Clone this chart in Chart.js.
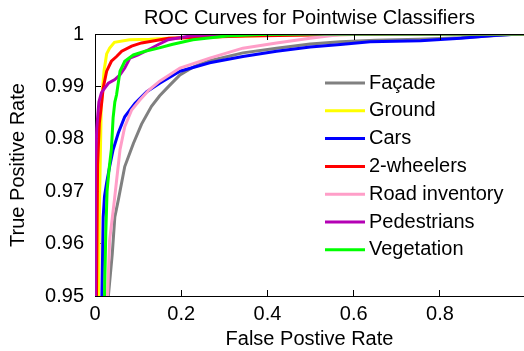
<!DOCTYPE html>
<html>
<head>
<meta charset="utf-8">
<script src="https://cdn.jsdelivr.net/npm/chart.js@4.4.0/dist/chart.umd.min.js"></script>
<style>
  html, body { margin: 0; padding: 0; background: #fff; }
  #wrap { width: 524px; height: 351px; position: relative; }
</style>
</head>
<body>
<div id="wrap"><canvas id="grafico"></canvas></div>
<script>
// Dados (FPR / TPR de cada classe)
const classes = ['Façade', 'Ground', 'Cars', '2-wheelers', 'Road inventory', 'Pedestrians', 'Vegetation'];
const cores = ['rgb(128,128,128)', 'rgb(255,255,0)', 'rgb(0,0,255)', 'rgb(255,0,0)', 'rgb(255,158,200)', 'rgb(180,0,180)', 'rgb(0,255,0)'];

const facadeFPR = [0.031, 0.040, 0.046, 0.054, 0.069, 0.089, 0.108, 0.131, 0.150, 0.173, 0.197, 0.230, 0.266, 0.343, 0.421, 0.499, 0.569, 0.650, 0.750, 0.850, 0.930, 0.980, 1.0];
const facadeTPR = [0.950, 0.958, 0.9651, 0.9683, 0.9747, 0.9791, 0.9828, 0.9862, 0.9882, 0.9902, 0.9922, 0.9938, 0.9949, 0.9964, 0.9973, 0.9981, 0.9985, 0.9988, 0.999, 0.9993, 0.9997, 1.0, 1.0];

const groundFPR = [0.008, 0.0105, 0.0144, 0.018, 0.021, 0.027, 0.034, 0.045, 0.080, 0.127, 0.173, 0.300, 0.450, 0.600, 1.0];
const groundTPR = [0.950, 0.968, 0.9859, 0.990, 0.993, 0.9962, 0.9973, 0.9984, 0.9989, 0.999, 0.9992, 0.9995, 0.9998, 1.0, 1.0];

const carsFPR = [0.016, 0.019, 0.022, 0.027, 0.034, 0.042, 0.054, 0.069, 0.093, 0.120, 0.150, 0.197, 0.266, 0.343, 0.421, 0.499, 0.569, 0.638, 0.755, 0.848, 0.925, 0.987, 1.0];
const carsTPR = [0.950, 0.965, 0.969, 0.9716, 0.9747, 0.9779, 0.9811, 0.9842, 0.9868, 0.989, 0.9906, 0.9929, 0.9945, 0.9957, 0.9967, 0.9975, 0.998, 0.9985, 0.9987, 0.9992, 0.9997, 1.0, 1.0];

const wheelersFPR = [0.0035, 0.006, 0.010, 0.015, 0.019, 0.027, 0.038, 0.050, 0.062, 0.085, 0.108, 0.138, 0.171, 0.250, 0.350, 0.500, 0.700, 1.0];
const wheelersTPR = [0.950, 0.975, 0.983, 0.9865, 0.9897, 0.9929, 0.9948, 0.9957, 0.9967, 0.9977, 0.9983, 0.9987, 0.9992, 0.9994, 0.9996, 0.9998, 1.0, 1.0];

const roadFPR = [0.029, 0.034, 0.045, 0.058, 0.069, 0.085, 0.104, 0.125, 0.150, 0.197, 0.266, 0.343, 0.421, 0.499, 0.569, 0.650, 1.0];
const roadTPR = [0.950, 0.9607, 0.9683, 0.9779, 0.9823, 0.9855, 0.9874, 0.9893, 0.991, 0.9935, 0.9954, 0.9973, 0.9983, 0.9992, 0.9999, 1.0, 1.0];

const pedestrFPR = [0.001, 0.001, 0.004, 0.009, 0.015, 0.023, 0.031, 0.046, 0.058, 0.069, 0.081, 0.100, 0.124, 0.147, 0.170, 0.220, 0.300, 1.0];
const pedestrTPR = [0.950, 0.975, 0.982, 0.987, 0.9888, 0.9897, 0.9906, 0.9913, 0.9922, 0.9935, 0.9954, 0.996, 0.997, 0.998, 0.9989, 0.9996, 1.0, 1.0];

const vegetFPR = [0.022, 0.025, 0.028, 0.033, 0.038, 0.042, 0.046, 0.050, 0.058, 0.069, 0.089, 0.116, 0.147, 0.178, 0.227, 0.305, 0.383, 0.500, 1.0];
const vegetTPR = [0.950, 0.962, 0.970, 0.9745, 0.978, 0.984, 0.987, 0.9884, 0.9929, 0.9948, 0.996, 0.9967, 0.9973, 0.998, 0.9989, 0.9996, 0.9999, 1.0, 1.0];

const seriesFPR = [facadeFPR, groundFPR, carsFPR, wheelersFPR, roadFPR, pedestrFPR, vegetFPR];
const seriesTPR = [facadeTPR, groundTPR, carsTPR, wheelersTPR, roadTPR, pedestrTPR, vegetTPR];

// Ticks dos eixos
const xTicks = [0, 0.2, 0.4, 0.6, 0.8];
const xTickLabels = ['0', '0.2', '0.4', '0.6', '0.8'];
const yTicks = [0.95, 0.96, 0.97, 0.98, 0.99, 1];
const yTickLabels = ['0.95', '0.96', '0.97', '0.98', '0.99', '1'];

const fonte = 'Liberation Sans, Arial, sans-serif';

const datasets = classes.map((nome, i) => ({
    label: nome,
    data: seriesFPR[i].map((x, k) => ({ x: x, y: seriesTPR[i][k] })),
    borderColor: cores[i],
    backgroundColor: cores[i],
    borderWidth: 3,
    pointRadius: 0,
    tension: 0,
    fill: false,
    order: classes.length - 1 - i // Vegetation por cima, como no MATLAB
}));

// Título, moldura superior com ticks internos e legenda dentro do gráfico
const extras = {
    id: 'extras',
    afterDraw(chart) {
        const { ctx, chartArea: a, scales } = chart;
        ctx.save();
        ctx.fillStyle = '#000';
        ctx.font = '20px ' + fonte;
        ctx.textAlign = 'center';
        ctx.textBaseline = 'middle';
        ctx.fillText('ROC Curves for Pointwise Classifiers', (a.left + a.right) / 2, 18);

        // linha de cima + ticks
        ctx.strokeStyle = '#000';
        ctx.lineWidth = 1;
        ctx.beginPath();
        ctx.moveTo(a.left, a.top + 0.5);
        ctx.lineTo(a.right, a.top + 0.5);
        xTicks.forEach(v => {
            const px = Math.round(scales.x.getPixelForValue(v)) + 0.5;
            ctx.moveTo(px, a.top);
            ctx.lineTo(px, a.top + 6);
        });
        ctx.stroke();

        // legenda
        ctx.textAlign = 'left';
        chart.data.datasets.forEach((ds, i) => {
            const y = a.top + 49 + i * 27.8;
            ctx.strokeStyle = ds.borderColor;
            ctx.lineWidth = 3;
            ctx.beginPath();
            ctx.moveTo(a.left + 230, y);
            ctx.lineTo(a.left + 270, y);
            ctx.stroke();
            ctx.fillStyle = '#000';
            ctx.fillText(ds.label, a.left + 274, y);
        });
        ctx.restore();
    }
};

new Chart(document.getElementById('grafico'), {
    type: 'line',
    data: { datasets: datasets },
    options: {
        responsive: true,
        maintainAspectRatio: false,
        animation: false,
        devicePixelRatio: 1,
        layout: { autoPadding: false, padding: { top: 34, left: 0, right: 0, bottom: 0 } },
        plugins: {
            legend: { display: false },
            tooltip: { enabled: false },
            title: { display: false }
        },
        scales: {
            x: {
                type: 'linear',
                min: 0,
                max: 0.995,
                afterBuildTicks: s => { s.ticks = xTicks.map(v => ({ value: v })); },
                afterFit: s => { s.height = 55; },
                ticks: {
                    color: '#000',
                    font: { family: fonte, size: 20 },
                    padding: 12,
                    maxRotation: 0,
                    callback: v => xTickLabels[xTicks.indexOf(v)]
                },
                grid: { drawOnChartArea: false, tickLength: -6, color: '#000' },
                border: { color: '#000', width: 1 },
                title: {
                    display: true,
                    text: 'False Postive Rate',
                    color: '#000',
                    font: { family: fonte, size: 20 },
                    padding: { top: 0, bottom: 0 }
                }
            },
            y: {
                type: 'linear',
                min: 0.95,
                max: 1,
                afterBuildTicks: s => { s.ticks = yTicks.map(v => ({ value: v })); },
                afterFit: s => { s.width = 95; },
                ticks: {
                    color: '#000',
                    font: { family: fonte, size: 20 },
                    padding: 17,
                    callback: v => yTickLabels[yTicks.findIndex(t => Math.abs(t - v) < 1e-9)]
                },
                grid: { drawOnChartArea: false, tickLength: -6, color: '#000' },
                border: { color: '#000', width: 1 },
                title: {
                    display: true,
                    text: 'True Positive Rate',
                    color: '#000',
                    font: { family: fonte, size: 20 },
                    padding: { top: 6, bottom: 0 }
                }
            }
        }
    },
    plugins: [extras]
});
</script>
</body>
</html>
